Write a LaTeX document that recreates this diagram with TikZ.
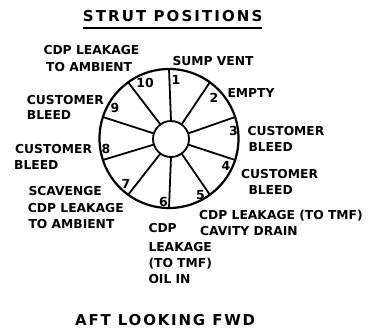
\documentclass[tikz,border=0pt]{standalone}
\usepackage{fontspec}
\setmainfont{DejaVu Sans}
\newfontfamily\ttlfont[LetterSpace=14]{DejaVu Sans}
\newfontfamily\capfont[LetterSpace=12]{DejaVu Sans}
\usetikzlibrary{calc}
\begin{document}
\begin{tikzpicture}[x=1pt,y=-1pt,
  lbl/.style={anchor=base west, inner sep=0pt, font=\fontsize{12.3}{14}\selectfont\bfseries},
  num/.style={inner sep=0pt, font=\fontsize{12.5}{14}\selectfont\bfseries},
  ttl/.style={anchor=base west, inner sep=0pt, font=\ttlfont\fontsize{15}{18}\selectfont\bfseries},
  captxt/.style={anchor=base west, inner sep=0pt, font=\capfont\fontsize{15}{18}\selectfont\bfseries},
  ring/.style={line width=2.2pt},
  spoke/.style={line width=1.8pt}]
\useasboundingbox (0,0) rectangle (371,333);
% title
\node[ttl] (title) at (82.7,21.7) {STRUT POSITIONS};
\coordinate (ul1) at (82.7,28);
\coordinate (ul2) at (262,28);
\draw[line width=2pt] (ul1) -- (ul2);
% wheel
\coordinate (oc) at (169,138.5);
\coordinate (ic) at (171,139);
\draw[ring] (oc) circle[radius=69.5pt];
\draw[spoke] (ic) circle[radius=18pt];
\foreach \k in {1,...,10}{
  \coordinate (in\k) at ($(ic)+({-90+36*(\k-1)}:18)$);
  \coordinate (out\k) at ($(oc)+({-90+36*(\k-1)}:69.5)$);
  \draw[spoke] (in\k) -- (out\k);
}
% numbers
\node[num] (n1) at (176,80) {1};
\node[num] (n2) at (214,98) {2};
\node[num] (n3) at (233.5,131) {3};
\node[num] (n4) at (226,165.5) {4};
\node[num] (n5) at (200.5,195) {5};
\node[num] (n6) at (163.5,201.5) {6};
\node[num] (n7) at (126,184) {7};
\node[num] (n8) at (106,149) {8};
\node[num] (n9) at (115,107.5) {9};
\node[num] (n10) at (145,83) {10};
% labels
\node[lbl] (l1) at (172.3,65) {SUMP VENT};
\node[lbl] (l2) at (227.3,97.3) {EMPTY};
\node[lbl] (l3a) at (247.3,135.5) {CUSTOMER};
\node[lbl] (l3b) at (248.3,151.5) {BLEED};
\node[lbl] (l4a) at (241,178.3) {CUSTOMER};
\node[lbl] (l4b) at (248.3,194.3) {BLEED};
\node[lbl] (l5a) at (199,219.3) {CDP LEAKAGE (TO TMF)};
\node[lbl] (l5b) at (200,235.5) {CAVITY DRAIN};
\node[lbl] (l6a) at (148.3,232.3) {CDP};
\node[lbl] (l6b) at (148.3,251.5) {LEAKAGE};
\node[lbl] (l6c) at (148.3,267) {(TO TMF)};
\node[lbl] (l6d) at (148.3,283.3) {OIL IN};
\node[lbl] (l7a) at (28.3,195) {SCAVENGE};
\node[lbl] (l7b) at (27.7,212) {CDP LEAKAGE};
\node[lbl] (l7c) at (28.3,228) {TO AMBIENT};
\node[lbl] (l8a) at (15,153.3) {CUSTOMER};
\node[lbl] (l8b) at (14,169.3) {BLEED};
\node[lbl] (l9a) at (26.7,104) {CUSTOMER};
\node[lbl] (l9b) at (26.7,119.3) {BLEED};
\node[lbl] (l10a) at (43.3,54.5) {CDP LEAKAGE};
\node[lbl] (l10b) at (46,71.7) {TO AMBIENT};
% bottom caption
\node[captxt] (cap) at (75,325) {AFT LOOKING FWD};
\end{tikzpicture}
\end{document}
